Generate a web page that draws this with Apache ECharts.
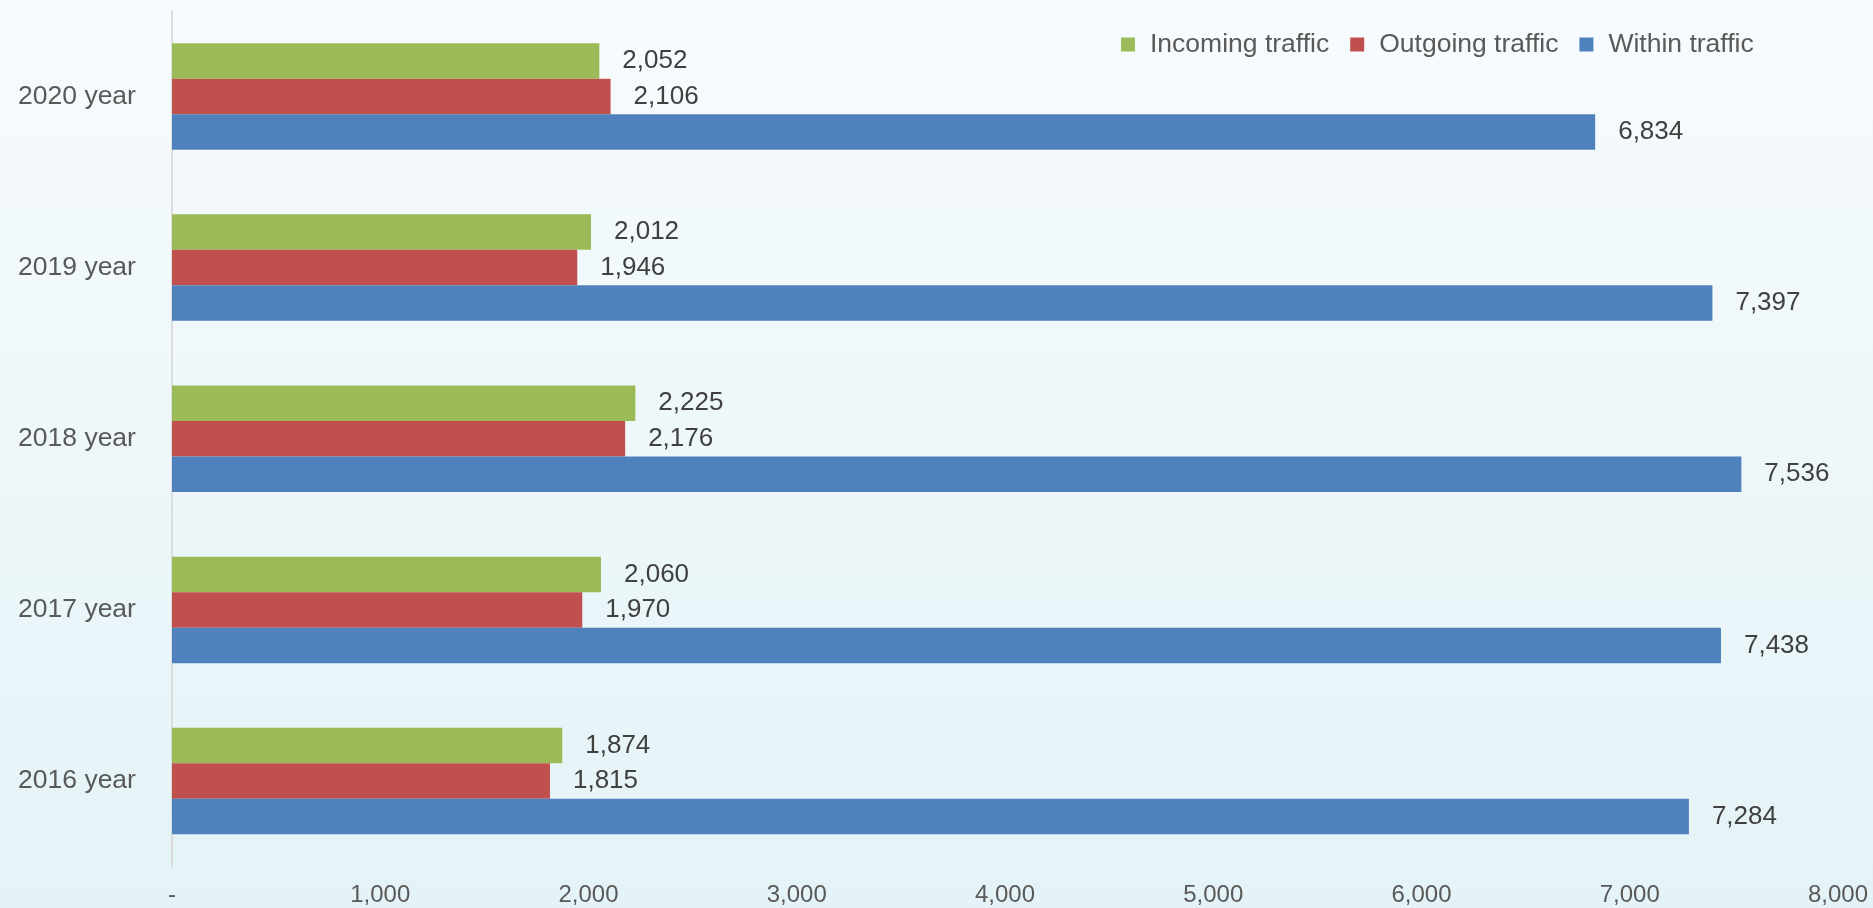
<!DOCTYPE html>
<html>
<head>
<meta charset="utf-8">
<style>
html, body { margin: 0; padding: 0; }
#chart { width: 1873px; height: 908px; }
</style>
<script src="https://cdn.jsdelivr.net/npm/echarts@6/dist/echarts.min.js"></script>
</head>
<body>
<div id="chart"></div>
<script>
var years = ['2016 year', '2017 year', '2018 year', '2019 year', '2020 year'];
var seriesNames = ['Incoming traffic', 'Outgoing traffic', 'Within traffic'];
var incoming = [1874, 2060, 2225, 2012, 2052];
var outgoing = [1815, 1970, 2176, 1946, 2106];
var within = [7284, 7438, 7536, 7397, 6834];
var colors = ['#9BBB59', '#C0504D', '#4F81BD'];

var chart = echarts.init(document.getElementById('chart'));

function fmt(v) {
	if (v == 0) return '-';
	return v.toString().replace(/\B(?=(\d{3})+(?!\d))/g, ',');
}

function makeSeries(name, data, color) {
	return {
		name: name,
		type: 'bar',
		data: data,
		barGap: '0%',
		barCategoryGap: '37.8%',
		itemStyle: { color: color },
		label: {
			show: true,
			position: 'right',
			distance: 23,
			color: '#404040',
			fontFamily: 'Liberation Sans, Arial, sans-serif',
			fontSize: 26,
			formatter: function (p) { return fmt(p.value); }
		}
	};
}

chart.setOption({
	backgroundColor: new echarts.graphic.LinearGradient(0, 0, 0, 1, [
		{ offset: 0, color: '#f7fbfd' },
		{ offset: 1, color: '#e4f3f7' }
	]),
	animation: false,
	legend: {
		left: 1116,
		top: 26,
		itemWidth: 14,
		itemHeight: 14,
		itemGap: 21,
		icon: 'rect',
		data: seriesNames,
		textStyle: {
			color: '#595959',
			fontFamily: 'Liberation Sans, Arial, sans-serif',
			fontSize: 26.5,
			padding: [0, 0, 0, 10]
		}
	},
	grid: {
		left: 172,
		right: 35,
		top: 10.8,
		bottom: 41.3,
		containLabel: false
	},
	xAxis: {
		type: 'value',
		min: 0,
		max: 8000,
		interval: 1000,
		splitLine: { show: false },
		axisLine: { show: false },
		axisTick: { show: false },
		axisLabel: {
			color: '#595959',
			fontFamily: 'Liberation Sans, Arial, sans-serif',
			fontSize: 24,
			margin: 17,
			formatter: fmt
		}
	},
	yAxis: {
		type: 'category',
		data: years,
		axisLine: { show: true, lineStyle: { color: '#d4d4d4', width: 1.5 } },
		axisTick: { show: false },
		axisLabel: {
			color: '#595959',
			fontFamily: 'Liberation Sans, Arial, sans-serif',
			fontSize: 26.5,
			align: 'center',
			margin: 95
		}
	},
	series: [
		makeSeries(seriesNames[0], incoming, colors[0]),
		makeSeries(seriesNames[1], outgoing, colors[1]),
		makeSeries(seriesNames[2], within, colors[2])
	]
});
</script>
</body>
</html>
